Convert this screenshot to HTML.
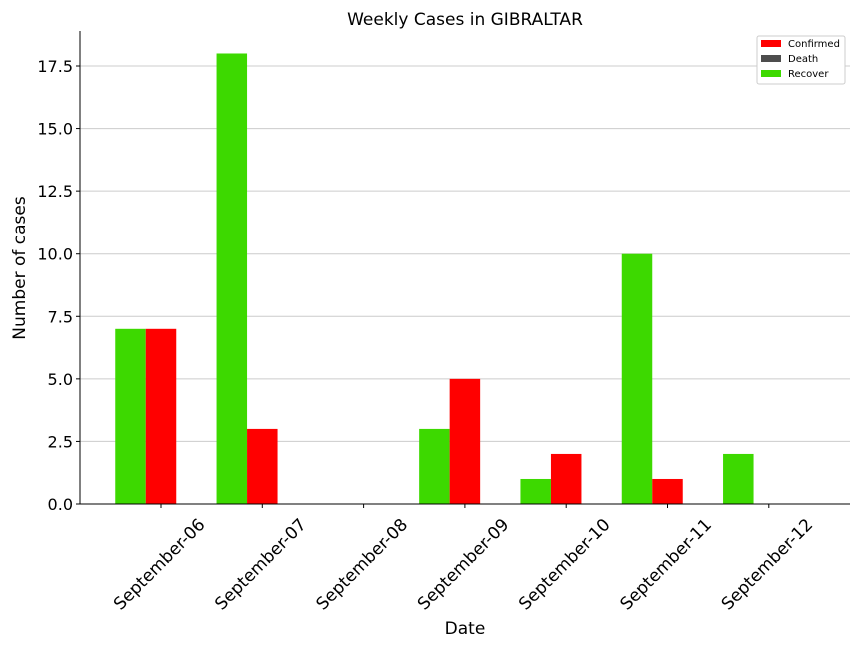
<!DOCTYPE html>
<html><head><meta charset="utf-8"><style>
body{margin:0;background:#fff;font-family:"DejaVu Sans","Liberation Sans",sans-serif;}
svg text{font-family:"DejaVu Sans","Liberation Sans",sans-serif;}
</style></head><body>
<svg id="chart" width="864" height="648" xmlns="http://www.w3.org/2000/svg">
<rect width="864" height="648" fill="#fff"/>
<text x="465" y="25" font-size="17" text-anchor="middle">Weekly Cases in GIBRALTAR</text>
<g id="grid"></g><g id="bars"></g><g id="axes"></g>
<text x="465" y="634" font-size="17" text-anchor="middle">Date</text>
<text transform="translate(25,268) rotate(-90)" font-size="17" text-anchor="middle">Number of cases</text>
<g>
<rect x="757" y="36" width="88" height="48" rx="2" fill="#fff" stroke="#ccc"/>
<rect x="761" y="40" width="20" height="7" fill="#ff0000"/>
<text x="788" y="47" font-size="10">Confirmed</text>
<rect x="761" y="55" width="20" height="7" fill="#4d4d4d"/>
<text x="788" y="62" font-size="10">Death</text>
<rect x="761" y="70" width="20" height="7" fill="#3dd900"/>
<text x="788" y="77" font-size="10">Recover</text>
</g>
</svg>
<script>
const categories=["September-06","September-07","September-08","September-09","September-10","September-11","September-12"];
const confirmed=[7,3,0,5,2,1,0];
const death=[0,0,0,0,0,0,0];
const recover=[7,18,0,3,1,10,2];
const yTicks=[0,2.5,5,7.5,10,12.5,15,17.5];
const ns="http://www.w3.org/2000/svg";
const L=80,R=850,T=31,B=504;
const x0=161,step=101.3,bw=30.5;
function xs(i){return x0+i*step;}
function ys(v){return B-v*(438/17.5);}
function mk(tag,attrs,parent){const e=document.createElementNS(ns,tag);for(const k in attrs)e.setAttribute(k,attrs[k]);parent.appendChild(e);return e;}
const grid=document.getElementById('grid'),bars=document.getElementById('bars'),axes=document.getElementById('axes');
yTicks.forEach(t=>{
 const y=ys(t);
 const g=mk('line',{x1:L,x2:R,y1:y,y2:y,stroke:'#cccccc','stroke-width':1},grid);
 
 
 const tk=mk('line',{x1:L-4,x2:L,y1:y,y2:y,stroke:'#000'},axes);
 
 
 const tx=mk('text',{x:L-7,y:y+6,'font-size':16,'text-anchor':'end'},axes);
 tx.textContent=t.toFixed(1);
 
 
});
categories.forEach((c,i)=>{
 const cx=xs(i);
 [[recover[i],-bw,'#3dd900','bar-recover'],[confirmed[i],0,'#ff0000','bar-confirmed'],[death[i],bw,'#4d4d4d','bar-death']].forEach(([v,off,col,nm])=>{
  const r=mk('rect',{x:cx+off-bw/2,y:ys(v),width:bw,height:B-ys(v),fill:col},bars);
  
  
 });
 const tk=mk('line',{x1:cx,x2:cx,y1:B,y2:B+4,stroke:'#000'},axes);
 
 
 const lx=cx-2,ly=564;
 const tx=mk('text',{x:lx,y:ly+6,'font-size':17,'text-anchor':'middle',transform:`rotate(-45 ${lx} ${ly})`},axes);
 tx.textContent=c;
 
 
});
const ya=mk('line',{x1:L,x2:L,y1:T,y2:B,stroke:'#000'},axes);


const xa=mk('line',{x1:L,x2:R,y1:B,y2:B,stroke:'#000'},axes);


</script>
</body></html>
